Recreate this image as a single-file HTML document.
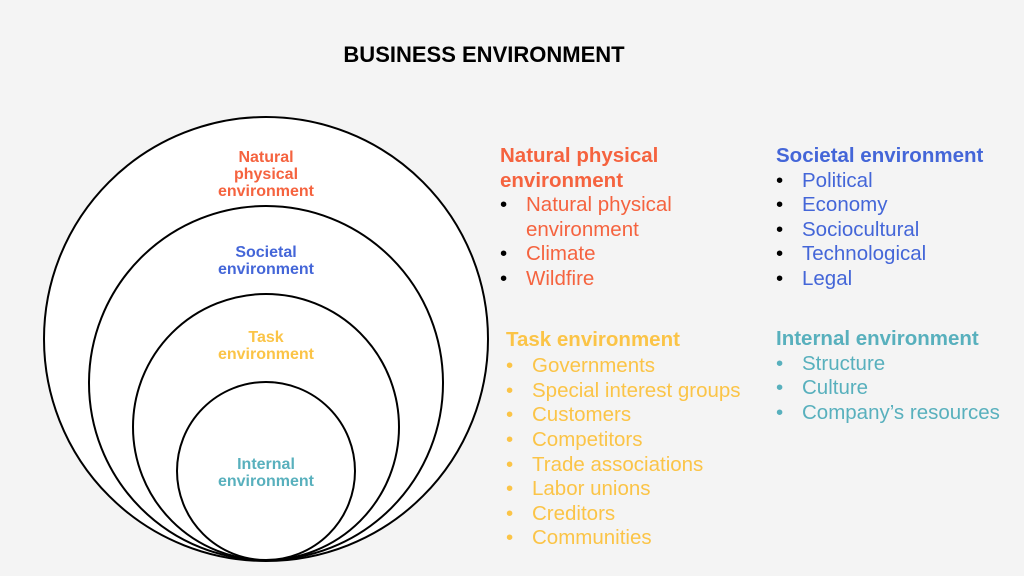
<!DOCTYPE html>
<html><head><meta charset="utf-8"><style>
html,body{margin:0;padding:0;background:#f4f4f4;}
svg{display:block;font-family:"Liberation Sans",Arial,sans-serif;}
</style></head><body>
<svg width="1024" height="576" viewBox="0 0 1024 576" xmlns="http://www.w3.org/2000/svg">
<rect width="1024" height="576" fill="#f4f4f4"/>
<text x="484" y="62" text-anchor="middle" font-size="22" font-weight="bold" fill="#000">BUSINESS ENVIRONMENT</text>
<g fill="#fff" stroke="#000" stroke-width="2">
<circle cx="266" cy="339" r="222"/>
<circle cx="266" cy="383" r="177"/>
<circle cx="266" cy="427" r="133"/>
<circle cx="266" cy="471" r="89"/>
</g>
<g font-size="16" font-weight="bold" text-anchor="middle">
<text fill="#f5633f"><tspan x="266" y="162">Natural</tspan><tspan x="266" y="179">physical</tspan><tspan x="266" y="196">environment</tspan></text>
<text fill="#4466d8"><tspan x="266" y="257">Societal</tspan><tspan x="266" y="274">environment</tspan></text>
<text fill="#fbc447"><tspan x="266" y="342">Task</tspan><tspan x="266" y="359">environment</tspan></text>
<text fill="#58b0bd"><tspan x="266" y="469">Internal</tspan><tspan x="266" y="486">environment</tspan></text>
</g>
<g font-size="20.5">
<g fill="#f5633f">
<text x="500" y="162" font-weight="bold">Natural physical</text>
<text x="500" y="187" font-weight="bold">environment</text>
<text x="526" y="211">Natural physical</text>
<text x="526" y="236">environment</text>
<text x="526" y="260">Climate</text>
<text x="526" y="285">Wildfire</text>
</g>
<g fill="#000"><text x="500" y="211">•</text><text x="500" y="260">•</text><text x="500" y="285">•</text></g>
<g fill="#4466d8">
<text x="776" y="162" font-weight="bold">Societal environment</text>
<text x="802" y="187">Political</text>
<text x="802" y="211">Economy</text>
<text x="802" y="236">Sociocultural</text>
<text x="802" y="260">Technological</text>
<text x="802" y="285">Legal</text>
</g>
<g fill="#000"><text x="776" y="187">•</text><text x="776" y="211">•</text><text x="776" y="236">•</text><text x="776" y="260">•</text><text x="776" y="285">•</text></g>
<g fill="#fbc447">
<text x="506" y="346" font-weight="bold">Task environment</text>
<text x="532" y="372">Governments</text>
<text x="532" y="397">Special interest groups</text>
<text x="532" y="421">Customers</text>
<text x="532" y="446">Competitors</text>
<text x="532" y="471">Trade associations</text>
<text x="532" y="495">Labor unions</text>
<text x="532" y="520">Creditors</text>
<text x="532" y="544">Communities</text>
</g>
<g fill="#fbc447"><text x="506" y="372">•</text><text x="506" y="397">•</text><text x="506" y="421">•</text><text x="506" y="446">•</text><text x="506" y="471">•</text><text x="506" y="495">•</text><text x="506" y="520">•</text><text x="506" y="544">•</text></g>
<g fill="#58b0bd">
<text x="776" y="345" font-weight="bold">Internal environment</text>
<text x="802" y="370">Structure</text>
<text x="802" y="394">Culture</text>
<text x="802" y="419">Company’s resources</text>
<text x="776" y="370">•</text><text x="776" y="394">•</text><text x="776" y="419">•</text>
</g>
</g>
</svg>
</body></html>
